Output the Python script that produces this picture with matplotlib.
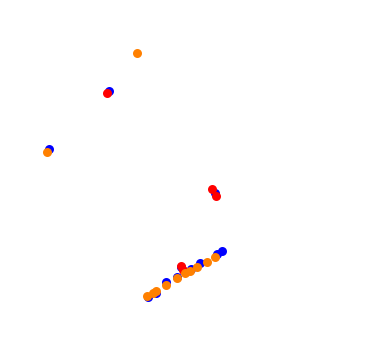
import matplotlib
matplotlib.use('Agg')
import matplotlib.pyplot as plt

# point positions (x right, y down)
blue_x = [148, 156, 166, 177, 181, 191, 200, 217, 222, 109, 215, 49]
blue_y = [297, 293, 282, 277, 267, 269, 263, 254, 251, 91, 193, 149]

red_x = [181, 183, 107, 212, 216]
red_y = [266, 270, 93, 189, 196]

orange_x = [147, 153, 156, 166, 177, 185, 190, 197, 207, 215, 47, 137]
orange_y = [296, 293, 291, 285, 278, 273, 271, 267, 262, 257, 152, 53]

fig = plt.figure(figsize=(3.65, 3.5), dpi=100)
ax = fig.add_axes([0, 0, 1, 1])
ax.scatter(blue_x, blue_y, s=42, color='#0000ff', linewidths=0)
ax.scatter(red_x, red_y, s=42, color='#ff0000', linewidths=0)
ax.scatter(orange_x, orange_y, s=42, color='#ff8000', linewidths=0)
ax.set_xlim(0, 365)
ax.set_ylim(350, 0)
ax.axis('off')

fig.savefig('out.png', dpi=100)
